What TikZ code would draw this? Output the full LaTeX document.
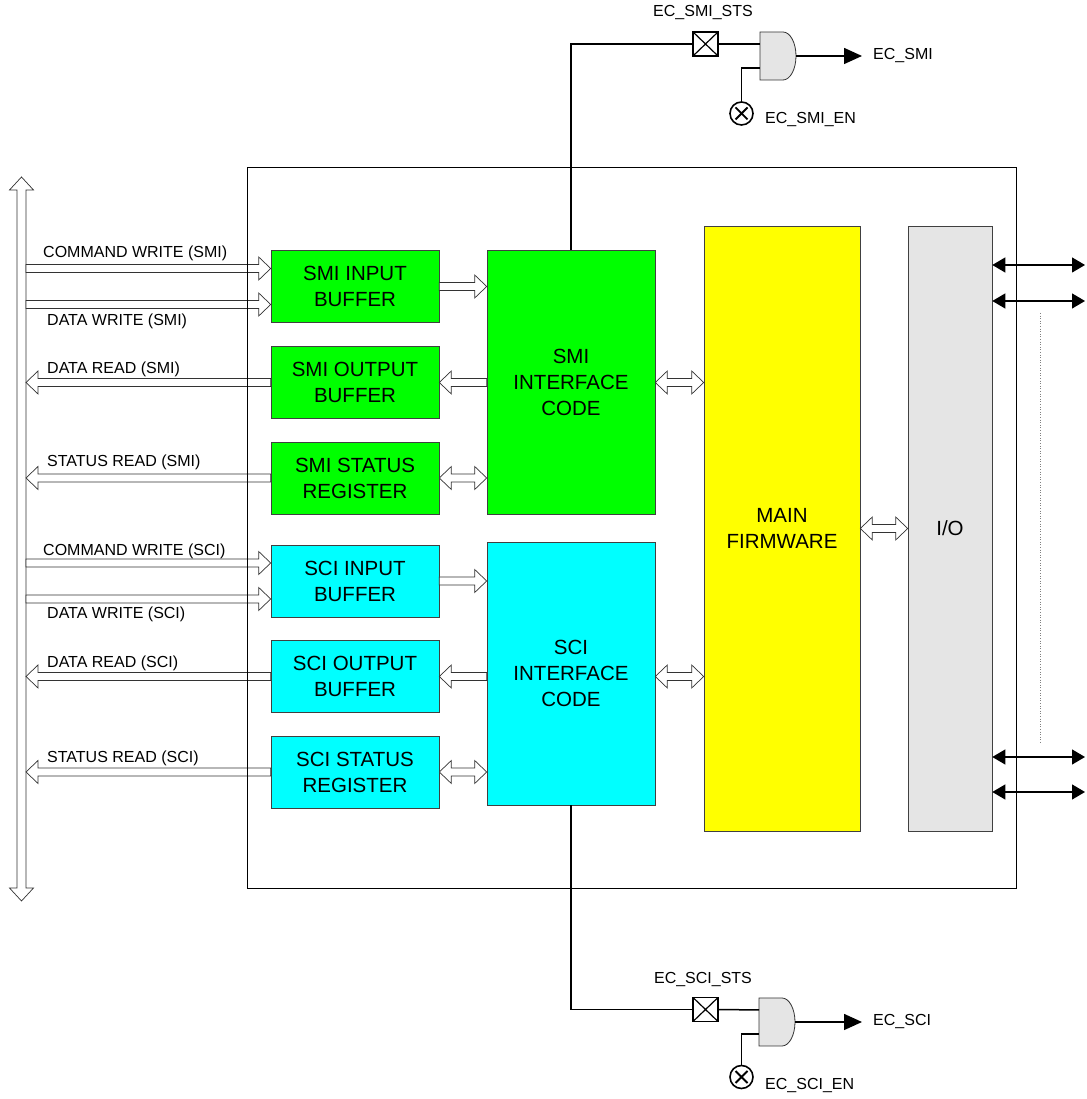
\documentclass[tikz,border=0pt]{standalone}
\usepackage{fontspec}
\setmainfont{Liberation Sans}
\usetikzlibrary{calc,arrows.meta}

\definecolor{smigreen}{RGB}{0,255,0}
\definecolor{scicyan}{RGB}{0,255,255}
\definecolor{fwyellow}{RGB}{255,255,0}

% open block arrow, #1 = 1 (tip right) or -1 (tip left), #2 tail, #3 tip
\newcommand{\fatarrow}[3]{%
  \draw[hollow] let \p1=(#2), \p2=(#3), \n1={\x2-(#1)*12pt} in
    (\x1,\y2+4pt) -- (\n1,\y2+4pt) -- (\n1,\y2+11.5pt) -- (\x2,\y2)
    -- (\n1,\y2-11.5pt) -- (\n1,\y2-4pt) -- (\x1,\y2-4pt) -- cycle;}
% open block arrow with two heads
\newcommand{\fatdarrow}[2]{%
  \draw[hollow] let \p1=(#1), \p2=(#2) in
    (\x1,\y1) -- (\x1+12pt,\y1+11.5pt) -- (\x1+12pt,\y1+4pt) -- (\x2-12pt,\y1+4pt)
    -- (\x2-12pt,\y1+11.5pt) -- (\x2,\y1) -- (\x2-12pt,\y1-11.5pt) -- (\x2-12pt,\y1-4pt)
    -- (\x1+12pt,\y1-4pt) -- (\x1+12pt,\y1-11.5pt) -- cycle;}

\begin{document}
\begin{tikzpicture}[x=1pt,y=1pt,
  block/.style={draw=black!75, line width=0.6pt, minimum width=168pt, minimum height=72pt,
    inner sep=0pt, align=center, font=\fontsize{20.5}{26}\selectfont},
  smi/.style={block, fill=smigreen},
  sci/.style={block, fill=scicyan},
  hollow/.style={draw=black!80, fill=white, line width=0.7pt},
  lbl/.style={inner sep=0pt, font=\fontsize{16}{19}\selectfont},
  wire/.style={line width=1.5pt},
  port/.style={line width=1.2pt, {Triangle[length=13pt,width=15pt]}-{Triangle[length=13pt,width=15pt]}},
  sts/.style={draw, fill=white, line width=1.5pt, minimum width=25pt, minimum height=24pt, inner sep=0pt,
    path picture={\draw[line width=1.2pt] (path picture bounding box.south west) -- (path picture bounding box.north east)
      (path picture bounding box.north west) -- (path picture bounding box.south east);}},
  enable/.style={draw, circle, fill=white, line width=1.6pt, minimum size=23pt, inner sep=0pt,
    path picture={\draw[line width=1.8pt]
      ([shift={(-6pt,-6pt)}]path picture bounding box.center) -- ([shift={(6pt,6pt)}]path picture bounding box.center)
      ([shift={(-6pt,6pt)}]path picture bounding box.center) -- ([shift={(6pt,-6pt)}]path picture bounding box.center);}},
  andgate/.pic={
    \draw[draw=black!80, fill=gray!20, line width=0.8pt] (0,24) -- (23,24)
      arc[start angle=90, end angle=-90, x radius=13, y radius=24] -- (0,-24) -- cycle;
    \coordinate (-in1) at (0,12);
    \coordinate (-in2) at (0,-12);
    \coordinate (-out) at (36,0);}]
  \useasboundingbox (0,0) rectangle (1086,1099);

  % host bus
  \coordinate (bustop) at (21.5,922);
  \coordinate (busbot) at (21.5,198);
  \coordinate (busr) at (26,0);
  \draw[hollow] let \p1=(bustop), \p2=(busbot) in
    (\x1,\y1) -- (\x1+12pt,\y1-13pt) -- (\x1+4.5pt,\y1-13pt) -- (\x1+4.5pt,\y2+13pt) -- (\x1+12pt,\y2+13pt)
    -- (\x2,\y2) -- (\x1-12pt,\y2+13pt) -- (\x1-4.5pt,\y2+13pt) -- (\x1-4.5pt,\y1-13pt) -- (\x1-12pt,\y1-13pt) -- cycle;

  \node[smi] (smiin) at (355,812.5) {SMI INPUT\\BUFFER};
  \node[smi] (smiout) at (355,716.5) {SMI OUTPUT\\BUFFER};
  \node[smi] (smistat) at (355,621) {SMI STATUS\\REGISTER};
  \node[smi, minimum height=264pt] (smicode) at (571,717) {SMI\\INTERFACE\\CODE};
  \node[sci] (sciin) at (355,518) {SCI INPUT\\BUFFER};
  \node[sci] (sciout) at (355,422.5) {SCI OUTPUT\\BUFFER};
  \node[sci] (scistat) at (355,327) {SCI STATUS\\REGISTER};
  \node[sci, minimum height=263pt] (scicode) at (571,425.5) {SCI\\INTERFACE\\CODE};
  \node[block, fill=fwyellow, minimum width=156pt, minimum height=605pt] (fw) at (782,570.5) {MAIN\\FIRMWARE};
  \node[block, fill=gray!20, minimum width=84pt, minimum height=605pt] (io) at (950,570.5) {I/O};

  % bus side
  \coordinate (cmdsmi) at ($(smiin.west)+(0,18)$);
  \coordinate (dwsmi) at ($(smiin.west)+(0,-18)$);
  \coordinate (cmdsci) at ($(sciin.west)+(0,18)$);
  \coordinate (dwsci) at ($(sciin.west)+(0,-18)$);
  \fatarrow{1}{busr}{cmdsmi}
  \fatarrow{1}{busr}{dwsmi}
  \fatarrow{-1}{smiout.west}{busr |- smiout.west}
  \fatarrow{-1}{smistat.west}{busr |- smistat.west}
  \fatarrow{1}{busr}{cmdsci}
  \fatarrow{1}{busr}{dwsci}
  \fatarrow{-1}{sciout.west}{busr |- sciout.west}
  \fatarrow{-1}{scistat.west}{busr |- scistat.west}
  \node[lbl, anchor=west] (cmdsmil) at (43,846) {COMMAND WRITE (SMI)};
  \node[lbl, anchor=west] (dwsmil) at (47,778) {DATA WRITE (SMI)};
  \node[lbl, anchor=west] (drsmil) at (47,730) {DATA READ (SMI)};
  \node[lbl, anchor=west] (srsmil) at (47,637) {STATUS READ (SMI)};
  \node[lbl, anchor=west] (cmdscil) at (43,548) {COMMAND WRITE (SCI)};
  \node[lbl, anchor=west] (dwscil) at (47,485) {DATA WRITE (SCI)};
  \node[lbl, anchor=west] (drscil) at (47,436) {DATA READ (SCI)};
  \node[lbl, anchor=west] (srscil) at (47,341) {STATUS READ (SCI)};

  % chip outline, over the bus arrows
  \node[draw, line width=0.8pt, minimum width=769pt, minimum height=721pt] (ec) at (631.5,571.5) {};

  % buffers to interface code
  \fatarrow{1}{smiin.east}{smicode.west |- smiin.east}
  \fatarrow{-1}{smicode.west |- smiout.east}{smiout.east}
  \fatdarrow{smistat.east}{smicode.west |- smistat.east}
  \fatarrow{1}{sciin.east}{scicode.west |- sciin.east}
  \fatarrow{-1}{scicode.west |- sciout.east}{sciout.east}
  \fatdarrow{scistat.east}{scicode.west |- scistat.east}
  \fatdarrow{smicode.east |- smiout}{fw.west |- smiout}
  \fatdarrow{scicode.east |- sciout}{fw.west |- sciout}
  \fatdarrow{fw.east}{io.west}

  % pins
  \foreach \y/\n in {834/a, 798/b, 342/c, 307/d} {
    \coordinate (pin\n) at (1085,\y);
    \draw[port] (io.east |- pin\n) -- (pin\n);
  }
  \draw[gray, dotted, line width=0.6pt] (1040,786) -- (1040,356);

  % SMI event
  \node[sts] (smists) at (705.5,1055) {};
  \pic (smigate) at (760,1043) {andgate};
  \node[enable] (smien) at (741.5,985.5) {};
  \coordinate (smisig) at (862,1043);
  \draw[wire] (smicode.north) |- (smists.west);
  \draw[wire] (smists.east) -- (smigate-in1);
  \draw[wire] (smien.north) |- (smigate-in2);
  \draw[wire, -{Triangle[length=18pt,width=16pt]}] (smigate-out) -- (smisig);
  \node[lbl] (smistsl) at (703,1086) {EC\_SMI\_STS};
  \node[lbl, anchor=west] (smisigl) at (873,1043) {EC\_SMI};
  \node[lbl, anchor=west] (smienl) at (765,979) {EC\_SMI\_EN};

  % SCI event
  \node[sts] (scists) at (705.5,89.5) {};
  \pic (scigate) at (759,77) {andgate};
  \node[enable] (scien) at (741.5,22) {};
  \coordinate (scisig) at (862,77);
  \draw[wire] (scicode.south) |- (scists.west);
  \draw[wire] (scists.east) -- (scigate-in1);
  \draw[wire] (scien.north) |- (scigate-in2);
  \draw[wire, -{Triangle[length=18pt,width=16pt]}] (scigate-out) -- (scisig);
  \node[lbl] (scistsl) at (703,119) {EC\_SCI\_STS};
  \node[lbl, anchor=west] (scisigl) at (873,77) {EC\_SCI};
  \node[lbl, anchor=west] (scienl) at (765,13) {EC\_SCI\_EN};
\end{tikzpicture}
\end{document}
